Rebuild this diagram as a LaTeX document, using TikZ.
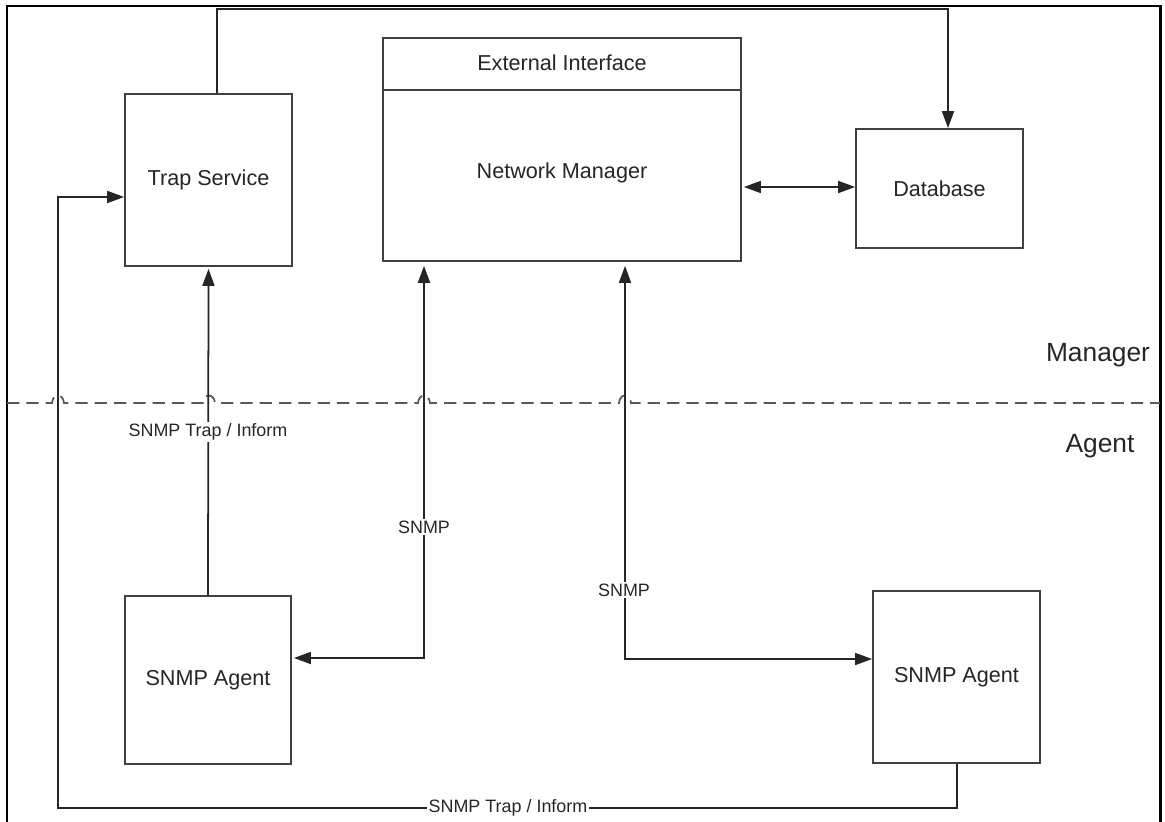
\documentclass[tikz,border=0pt]{standalone}
\usepackage{fontspec}
\setmainfont{Liberation Sans}
\usetikzlibrary{arrows.meta}
\begin{document}
\begin{tikzpicture}[x=0.02cm,y=-0.02cm,
  box/.style={draw=black!75,line width=1pt,rectangle,inner sep=0pt,font=\fontsize{12.3pt}{14pt}\selectfont,text=black!85},
  conn/.style={draw=black!85,line width=1pt},
  tip/.style={-{Triangle[length=0.34cm,width=0.24cm]}},
  both/.style={{Triangle[length=0.34cm,width=0.24cm]}-{Triangle[length=0.34cm,width=0.24cm]}},
  lbl/.style={fill=white,inner sep=1pt,font=\fontsize{10.2pt}{12pt}\selectfont,text=black!85},
  side/.style={font=\fontsize{15pt}{17pt}\selectfont,text=black!85}]
\useasboundingbox (0,0) rectangle (1165,821);
\fill[white] (0,0) rectangle (1165,821);
% outer frame
\draw[line width=1.7pt,black] (7,830) -- (7,6) -- (1160,6) -- (1160,830);

% boxes
\node[box,minimum width=0.02cm*167,minimum height=0.02cm*172] (ts) at (208.5,180) {Trap Service};
\node[box,minimum width=0.02cm*358,minimum height=0.02cm*223] (nm) at (562,149.5) {};
\draw[black!75,line width=1pt] (nm.west |- 0,90) -- (nm.east |- 0,90);
\node[box,draw=none] (ei) at (562,63) {External Interface};
\node[box,draw=none] (nmt) at (562,173) {Network Manager};
\node[box,minimum width=0.02cm*167,minimum height=0.02cm*119] (db) at (939.5,188.5) {Database};
\node[box,minimum width=0.02cm*166,minimum height=0.02cm*168] (ag1) at (208,680) {SNMP Agent};
\node[box,minimum width=0.02cm*167,minimum height=0.02cm*172] (ag2) at (956.5,677) {SNMP Agent};

% manager / agent divider with hops
\draw[black!65,line width=1pt,dash pattern=on 7pt off 4pt]
  (7,403) -- (52,403) .. controls (53,393) and (63,393) .. (64,403)
  -- (203,403) .. controls (204,393) and (214,393) .. (215,403)
  -- (418,403) .. controls (419,393) and (429,393) .. (430,403)
  -- (619,403) .. controls (620,393) and (630,393) .. (631,403)
  -- (1160,403);
\node[side] (mgr) at (1098,355) {Manager};
\node[side] (agt) at (1100,446) {Agent};

% trap service -> database
\coordinate (t1) at (217,9);
\coordinate (t2) at (948,9);
\draw[conn,tip] (ts.north -| t1) -- (t1) -- (t2) -- (t2 |- db.north);

% network manager <-> database
\coordinate (d1) at (0,187);
\draw[conn,both] ([xshift=0.04cm]nm.east |- d1) -- (db.west |- d1);

% agent1 -> trap service
\draw[conn,tip] (ag1.north) -- ([yshift=-0.04cm]ts.south);
\node[lbl] (trl1) at (208,432) {SNMP Trap / Inform};

% agent1 <-> network manager
\coordinate (k1) at (424,658);
\draw[conn,both] ([xshift=0.04cm]ag1.east |- k1) -- (k1) -- ([yshift=-0.08cm]k1 |- nm.south);
\node[lbl] (s1) at (424,527) {SNMP};

% agent2 <-> network manager
\coordinate (k2) at (625,659);
\draw[conn,both] (ag2.west |- k2) -- (k2) -- ([yshift=-0.08cm]k2 |- nm.south);
\node[lbl] (s2) at (624,590) {SNMP};

% agent2 -> trap service loop
\coordinate (b1) at (957,808);
\coordinate (b2) at (58,808);
\coordinate (b3) at (58,197);
\draw[conn,tip] (ag2.south -| b1) -- (b1) -- (b2) -- (b3) -- (ts.west |- b3);
\node[lbl] (trl2) at (508,808) {SNMP Trap / Inform};
\end{tikzpicture}
\end{document}
